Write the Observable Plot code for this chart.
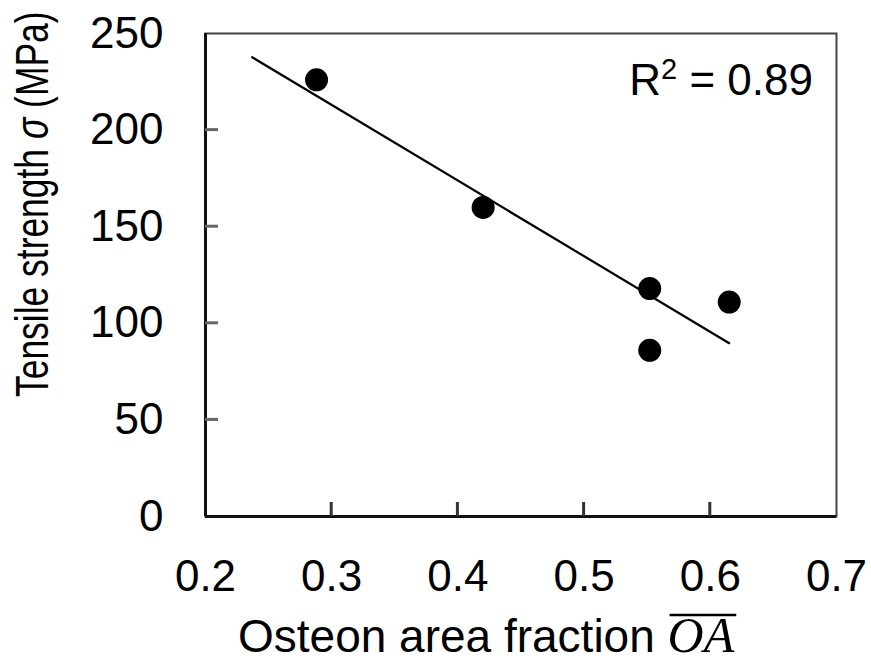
<!DOCTYPE html>
<html>
<head>
<meta charset="utf-8">
<script src="https://cdn.jsdelivr.net/npm/d3@7"></script>
<script src="https://cdn.jsdelivr.net/npm/@observablehq/plot@0.6"></script>
<style>
  html, body { margin: 0; padding: 0; background: #fff; }
  svg { display: block; }
</style>
</head>
<body>
<div id="chart"></div>
<script>
// Data
const osteonFraction = [0.288, 0.420, 0.552, 0.552, 0.615];
const tensileStrength = [226, 160, 118, 86, 111];
const fitX = [0.237, 0.615];
const fitY = [237.7, 89.7];
const xTicks = [0.2, 0.3, 0.4, 0.5, 0.6, 0.7];
const yTicks = [0, 50, 100, 150, 200, 250];
const r2Value = "0.89";

const points = osteonFraction.map((x, i) => ({x, y: tensileStrength[i]}));
const fit = fitX.map((x, i) => ({x, y: fitY[i]}));

const FONT = "'Liberation Sans', Arial, sans-serif";

const plot = Plot.plot({
  width: 871,
  height: 668,
  marginLeft: 205,
  marginRight: 35,
  marginTop: 33,
  marginBottom: 152,
  style: {fontFamily: FONT, background: "#fff", color: "#000"},
  x: {domain: [0.2, 0.7]},
  y: {domain: [0, 250]},
  marks: [
    Plot.frame({stroke: "#444", strokeWidth: 2}),
    Plot.axisX({ticks: xTicks, tickSize: 0, tickPadding: 43, fontSize: 44, tickFormat: d => d.toFixed(1), label: null}),
    Plot.axisY({ticks: yTicks, tickSize: 0, tickPadding: 42, fontSize: 44, label: null}),
    Plot.ruleX([0.2], {stroke: "#111", strokeWidth: 3}),
    Plot.ruleY([0], {stroke: "#111", strokeWidth: 3}),
    Plot.line(fit, {x: "x", y: "y", stroke: "#000", strokeWidth: 2.2}),
    Plot.dot(points, {x: "x", y: "y", r: 11.5, fill: "#000", stroke: "none"})
  ]
});

document.getElementById("chart").appendChild(plot);

const svg = d3.select(plot);
const sx = plot.scale("x"), sy = plot.scale("y");
const x0 = sx.apply(0.2), y0 = sy.apply(0);

// Inward tick marks derived from the plot scales
const g = svg.append("g");
xTicks.slice(1, -1).forEach(v => {
  const px = sx.apply(v);
  g.append("line").attr("x1", px).attr("x2", px).attr("y1", y0).attr("y2", y0 - 14)
    .attr("stroke", "#333").attr("stroke-width", 3);
});
yTicks.slice(1, -1).forEach(v => {
  const py = sy.apply(v);
  g.append("line").attr("x1", x0).attr("x2", x0 + 13).attr("y1", py).attr("y2", py)
    .attr("stroke", "#666").attr("stroke-width", 3);
});

// R² annotation
const r2 = svg.append("text")
  .attr("x", 813).attr("y", 95)
  .attr("text-anchor", "end")
  .attr("font-family", FONT).attr("font-size", 44).attr("fill", "#000");
r2.append("tspan").text("R");
r2.append("tspan").attr("font-size", 29).attr("dy", -16).text("2");
r2.append("tspan").attr("dy", 16).text(" = " + r2Value);

// Y axis title (italic sigma), condensed along its length as in the reference
const yt = svg.append("text")
  .attr("transform", "translate(48,397) rotate(-90) scale(0.77,1)")
  .attr("font-family", FONT)
  .attr("font-size", 46)
  .attr("fill", "#000")
  .attr("text-anchor", "start");
yt.append("tspan").text("Tensile strength ");
yt.append("tspan").attr("font-style", "italic").text("σ");
yt.append("tspan").text(" (MPa)");

// X axis title (overlined italic OA)
const xt = svg.append("text")
  .attr("x", 238)
  .attr("y", 652)
  .attr("text-anchor", "start")
  .attr("font-family", FONT)
  .attr("font-size", 46)
  .attr("fill", "#000");
xt.append("tspan").text("Osteon area fraction ");
const oa = xt.append("tspan")
  .attr("font-family", "'Liberation Serif', 'DejaVu Serif', serif")
  .attr("font-style", "italic")
  .attr("font-size", 50)
  .text("OA");

// Overline drawn close above the OA glyphs
try {
  const n = oa.node();
  const sxp = n.getStartPositionOfChar(0).x;
  const exp = n.getEndPositionOfChar(1).x;
  svg.append("line")
    .attr("x1", sxp + 2).attr("x2", exp + 2)
    .attr("y1", 615).attr("y2", 615)
    .attr("stroke", "#000").attr("stroke-width", 2.5);
} catch (e) {
  oa.attr("text-decoration", "overline");
}
</script>
</body>
</html>
